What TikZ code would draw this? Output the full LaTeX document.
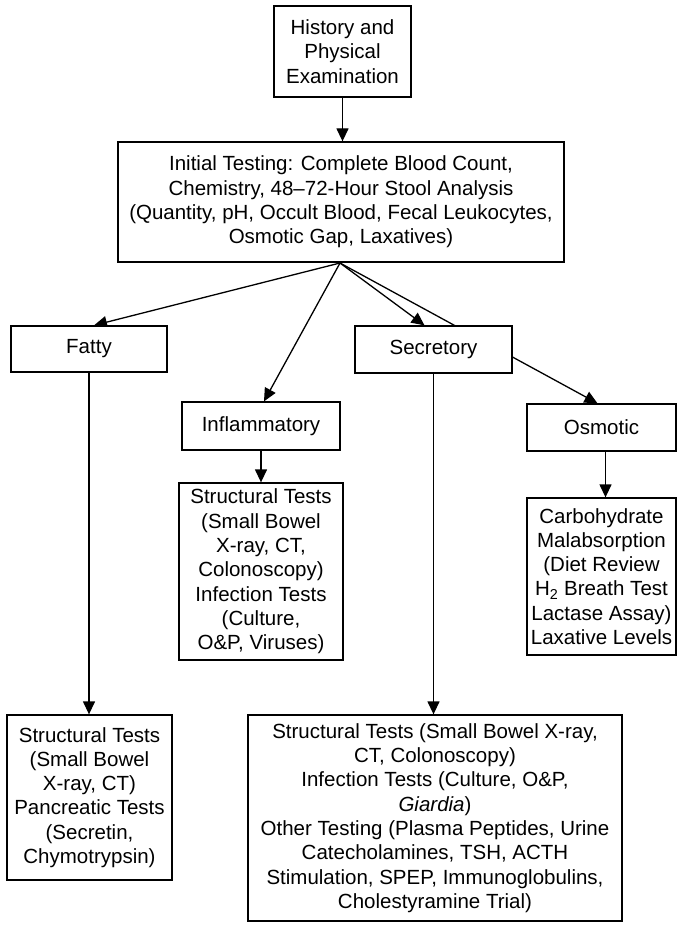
\documentclass[tikz,border=0pt]{standalone}
\usepackage{fontspec}
\setmainfont{Liberation Sans}
\usetikzlibrary{arrows.meta,backgrounds}

\tikzset{
  box/.style={draw, fill=white, line width=1.3pt, rectangle, inner sep=0pt,
              align=center, font=\fontsize{20.5}{24.3}\selectfont},
  link/.style={line width=1.3pt, -{Triangle[length=13pt,width=12pt]}},
}

\begin{document}
\begin{tikzpicture}[x=1pt,y=-1pt]
\useasboundingbox (0,0) rectangle (679,928);

% boxes
\node[box, minimum width=137pt, minimum height=91pt] (hist) at (342.5,51.5)
  {History and\\Physical\\Examination};
\node[box, minimum width=446pt, minimum height=120pt] (init) at (341,202)
  {Initial Testing: Complete Blood Count,\\Chemistry, 48–72-Hour Stool Analysis\\(Quantity, pH, Occult Blood, Fecal Leukocytes,\\Osmotic Gap, Laxatives)};
\coordinate (hub) at (340,263);

\node[box, minimum width=156pt, minimum height=46pt] (fatty) at (89,349) {Fatty};
\node[box, minimum width=157pt, minimum height=47pt] (secr) at (433.5,349.5) {Secretory};
\node[box, minimum width=158pt, minimum height=48pt] (infl) at (261,426) {Inflammatory};
\node[box, minimum width=149pt, minimum height=47pt] (osm) at (601.5,427.5) {Osmotic};

\node[box, minimum width=164pt, minimum height=177pt] (infltests) at (261,571.5)
  {Structural Tests\\(Small Bowel\\X-ray, CT,\\Colonoscopy)\\Infection Tests\\(Culture,\\O\&P, Viruses)};
\node[box, minimum width=149pt, minimum height=157pt] (osmtests) at (601.5,576.5)
  {Carbohydrate\\Malabsorption\\(Diet Review\\H\textsubscript{2} Breath Test\\Lactase Assay)\\Laxative Levels};
\node[box, minimum width=165pt, minimum height=165pt] (fattests) at (89.5,797.5)
  {Structural Tests\\(Small Bowel\\X-ray, CT)\\Pancreatic Tests\\(Secretin,\\Chymotrypsin)};
\node[box, minimum width=374pt, minimum height=206pt] (secrtests) at (435,818)
  {Structural Tests (Small Bowel X-ray,\\CT, Colonoscopy)\\Infection Tests (Culture, O\&P,\\\textit{Giardia})\\Other Testing (Plasma Peptides, Urine\\Catecholamines, TSH, ACTH\\Stimulation, SPEP, Immunoglobulins,\\Cholestyramine Trial)};

% connectors, kept behind the boxes
\begin{pgfonlayer}{background}
  \draw[link] (hist.south) -- (hist.south |- init.north);
  \draw[link] (hub) -- ([xshift=5pt]fatty.north);
  \draw[link] (hub) -- ([xshift=3pt]infl.north);
  \draw[link] (hub) -- ([xshift=-9pt]secr.north);
  \draw[link] (hub) -- ([xshift=-4pt]osm.north);
  \draw[link] (infl.south) -- (infltests.north);
  \draw[link] ([xshift=4pt]osm.south) -- ([xshift=4pt]osm.south |- osmtests.north);
  \draw[link] (fatty.south) -- (fatty.south |- fattests.north);
  \draw[link] (secr.south) -- (secr.south |- secrtests.north);
\end{pgfonlayer}
\end{tikzpicture}
\end{document}
